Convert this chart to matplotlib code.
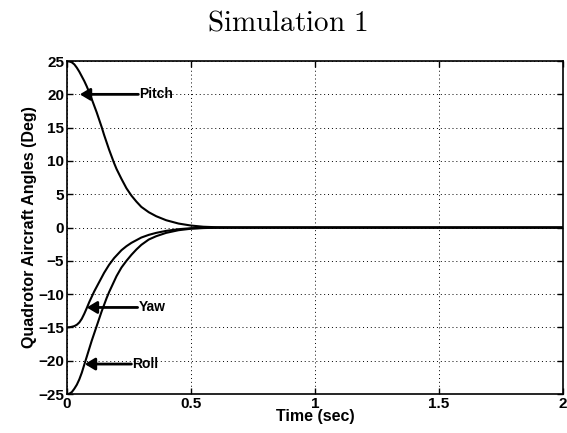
import matplotlib
matplotlib.use("Agg")
import matplotlib.pyplot as plt

# Attitude response of the quadrotor (degrees) over time (seconds)
t = [0, 0.01, 0.02, 0.03, 0.04, 0.05, 0.06, 0.07, 0.08, 0.09, 0.10,
     0.11, 0.12, 0.13, 0.14, 0.15, 0.16, 0.17, 0.18, 0.19, 0.20,
     0.22, 0.24, 0.26, 0.28, 0.30, 0.33, 0.36, 0.40, 0.45, 0.50,
     0.55, 0.60, 0.70, 2.0]
pitch = [25, 24.95, 24.8, 24.5, 24.0, 23.4, 22.7, 22.0, 21.2, 20.3, 19.3,
         18.3, 17.3, 16.2, 15.1, 13.9, 12.8, 11.7, 10.7, 9.7, 8.8,
         7.3, 5.9, 4.8, 3.9, 3.1, 2.3, 1.7, 1.1, 0.6, 0.3,
         0.12, 0.05, 0, 0]
yaw = [-15, -14.97, -14.9, -14.8, -14.6, -14.25, -13.7, -12.95, -12.1, -11.2, -10.4,
       -9.6, -8.9, -8.2, -7.5, -6.8, -6.2, -5.6, -5.1, -4.6, -4.2,
       -3.4, -2.8, -2.3, -1.9, -1.5, -1.1, -0.8, -0.5, -0.25, -0.1,
       -0.05, -0.02, 0, 0]
roll = [-25, -24.95, -24.7, -24.2, -23.6, -22.8, -21.8, -20.6, -19.4, -18.2, -17.0,
        -15.9, -14.8, -13.7, -12.6, -11.6, -10.6, -9.7, -8.9, -8.1, -7.3,
        -6.0, -5.0, -4.1, -3.3, -2.6, -1.8, -1.3, -0.8, -0.4, -0.18,
        -0.08, -0.03, 0, 0]

labels = ["Pitch", "Yaw", "Roll"]
label_y = [20, -12, -20.5]
arrow_head_x = [0.052, 0.08, 0.072]
arrow_tail_x = [0.288, 0.285, 0.26]

xticks = [0, 0.5, 1, 1.5, 2]
xtick_labels = ["0", "0.5", "1", "1.5", "2"]
yticks = [-25, -20, -15, -10, -5, 0, 5, 10, 15, 20, 25]

plt.rcParams["mathtext.fontset"] = "cm"
sans = "Liberation Sans"

fig = plt.figure(figsize=(5.67, 4.33), dpi=100)
ax = fig.add_axes([0.118, 0.090, 0.875, 0.769])

for series in (pitch, yaw, roll):
    ax.plot(t, series, color="black", lw=1.5)

for name, y, hx, tx in zip(labels, label_y, arrow_head_x, arrow_tail_x):
    ax.annotate("", xy=(hx, y), xytext=(tx, y),
                arrowprops=dict(arrowstyle="-|>,head_length=0.5,head_width=0.3",
                                color="black", lw=2.0,
                                mutation_scale=12, shrinkA=0, shrinkB=0))
    ax.text(tx + 0.003, y, name, fontfamily=sans, fontweight="bold",
            fontsize=10, va="center", ha="left")

ax.set_xlim(0, 2)
ax.set_ylim(-25, 25)
ax.set_xticks(xticks)
ax.set_xticklabels(xtick_labels)
ax.set_yticks(yticks)
ax.grid(True, linestyle=(0, (1, 3)), color="black", lw=0.7)
ax.tick_params(direction="in", top=True, right=True, length=4, width=1,
               labelsize=11, pad=2)
for lab in ax.get_xticklabels() + ax.get_yticklabels():
    lab.set_fontfamily(sans)
    lab.set_fontweight("bold")
for sp in ax.spines.values():
    sp.set_linewidth(1.2)

ax.set_xlabel("Time (sec)", fontfamily=sans, fontweight="bold", fontsize=11.5, labelpad=-1)
ax.set_ylabel("Quadrotor Aircraft Angles (Deg)", fontfamily=sans,
              fontweight="bold", fontsize=11.5, labelpad=1)
fig.text(0.506, 0.949, r"$\mathrm{Simulation\ 1}$", fontsize=21,
         ha="center", va="center")

fig.savefig("out.png", dpi=100)
